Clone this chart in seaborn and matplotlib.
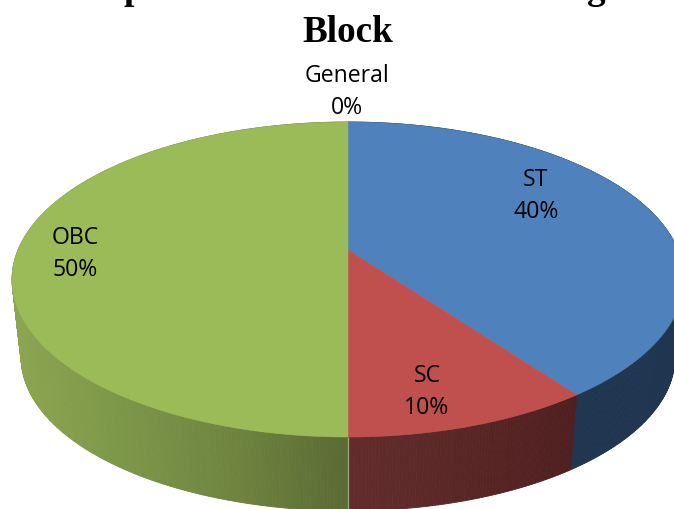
import numpy as np
import matplotlib
matplotlib.use("Agg")
import matplotlib.pyplot as plt
from matplotlib.collections import PolyCollection
import seaborn as sns

# Survey shares, in percent, clockwise from twelve o'clock
categories = ["ST", "SC", "OBC", "General"]
shares = [40, 10, 50, 0]

face_colors = ["#4f81bd", "#c0504d", "#9bbb59", "#8064a2"]
wall_stops = {
    "ST": ["#1f3550", "#1f3550"],
    "SC": ["#632c2c", "#4f1f1f"],
    "OBC": ["#5a6b34", "#6e843f", "#7c9648", "#8ba551"],
    "General": ["#4d3c62", "#4d3c62"],
}
label_centers = {"ST": (536, 196), "SC": (427, 392), "OBC": (75, 254), "General": (346.5, 92)}

# Perspective disc: unit circle mapped through a projective transform, pixel units
CX = 348.0
TILT = 0.1873
TOP = {"a": -105.15, "b": 250.0, "d": 330.0}
BOTTOM = {"a": -86.27, "b": 328.9, "d": 321.0}


def project(theta, plane):
    u, v = np.sin(theta), np.cos(theta)
    w = 1 + TILT * v
    return CX + plane["d"] * u / w, (plane["a"] * v + plane["b"]) / w


sns.set_theme(style="white")
plt.rcParams["font.family"] = ["Open Sans", "DejaVu Sans"]

fig = plt.figure(figsize=(6.74, 5.09), dpi=100)
ax = fig.add_axes([0, 0, 1, 1])
ax.set_xlim(0, 674)
ax.set_ylim(509, 0)
ax.axis("off")

edges = np.radians(np.concatenate([[0], np.cumsum(shares)]) * 3.6)

# Side wall: narrow quads between the two rims, shaded by horizontal position
quads, shades = [], []
for name, start, stop in zip(categories, edges[:-1], edges[1:]):
    if stop <= start:
        continue
    ramp = sns.blend_palette(wall_stops[name], 101)
    steps = np.linspace(start, stop, int(np.degrees(stop - start)) * 2 + 2)
    for t0, t1 in zip(steps[:-1], steps[1:]):
        x0, y0 = project(t0, TOP)
        x1, y1 = project(t1, TOP)
        x2, y2 = project(t1, BOTTOM)
        x3, y3 = project(t0, BOTTOM)
        if name == "SC":
            # runs from the join at the front towards the ST boundary
            frac = (stop - 0.5 * (t0 + t1)) / (stop - start)
        else:
            frac = min(abs(0.5 * (x0 + x1) - CX) / 336, 1)
        quads.append([(x0, y0), (x1, y1), (x2, y2), (x3, y3)])
        shades.append(ramp[int(frac * 100)])
ax.add_collection(PolyCollection(quads, facecolors=shades, edgecolors=shades, linewidths=0.6))

# Light seam on the wall where SC meets OBC
seam = edges[categories.index("SC") + 1]
sx0, sy0 = project(seam, TOP)
sx1, sy1 = project(seam, BOTTOM)
ax.plot([sx0, sx1], [sy0, sy1], color="#9d9a85", lw=1.0, solid_capstyle="butt")

# Top face wedges
apex = (CX, TOP["b"])
for name, color, start, stop in zip(categories, face_colors, edges[:-1], edges[1:]):
    if stop <= start:
        continue
    arc = np.linspace(start, stop, 300)
    xs, ys = project(arc, TOP)
    ax.fill(np.r_[apex[0], xs], np.r_[apex[1], ys], facecolor=color, edgecolor=color, lw=0.4)

# Category labels
for name, share in zip(categories, shares):
    lx, ly = label_centers[name]
    ax.text(lx, ly, f"{name}\n{share}%", ha="center", va="center", ma="center",
            fontsize=16.6, color="black", linespacing=1.43)

# Title: the upper line sits above the canvas, so only its descenders reach into view
title_font = dict(family="Liberation Serif", fontweight="bold", fontsize=26.7, color="black")
ax.text(347.5, 42, "Block", ha="center", va="baseline", **title_font)
ax.text(134, -1.5, "p", ha="center", va="baseline", **title_font)
ax.text(596, -1.5, "g", ha="center", va="baseline", **title_font)

fig.savefig("out.png", dpi=100)
